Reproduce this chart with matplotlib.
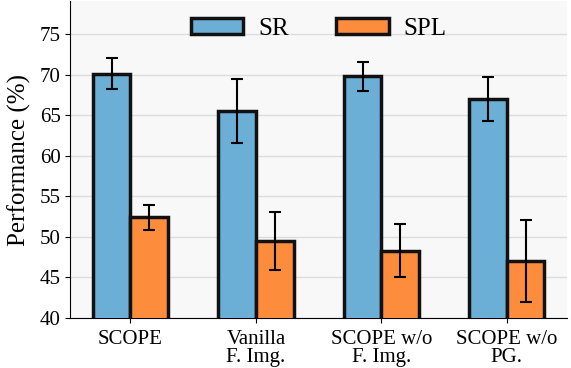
import numpy as np
import matplotlib
matplotlib.use("Agg")
import matplotlib.pyplot as plt

plt.rcParams['font.family'] = ['Liberation Serif', 'DejaVu Serif']

categories = ["SCOPE", "Vanilla\nF. Img.", "SCOPE w/o\nF. Img.", "SCOPE w/o\nPG."]
sr = [70.1, 65.5, 69.8, 67.0]
sr_err = [1.9, 4.0, 1.8, 2.7]
spl = [52.4, 49.5, 48.3, 47.0]
spl_err = [1.55, 3.6, 3.3, 5.05]

x = np.arange(len(categories))
width = 0.3

fig = plt.figure(figsize=(5.71, 3.68), dpi=100)
ax = fig.add_axes([0.123, 0.136, 0.870, 0.86])
ax.set_facecolor("#f8f8f8")

ax.bar(x - width / 2, sr, width, yerr=sr_err, color="#6baed6", edgecolor="#111111",
       linewidth=2.5, capsize=4, error_kw=dict(elinewidth=1.5, capthick=1.5), label="SR", zorder=3)
ax.bar(x + width / 2, spl, width, yerr=spl_err, color="#fd8d3c", edgecolor="#111111",
       linewidth=2.5, capsize=4, error_kw=dict(elinewidth=1.5, capthick=1.5), label="SPL", zorder=3)

ax.set_ylim(40, 79)
ax.set_xlim(-0.48, 3.48)
ax.set_yticks([40, 45, 50, 55, 60, 65, 70, 75])
ax.set_xticks(x)
ax.set_xticklabels(categories, fontsize=15, linespacing=0.95)
ax.tick_params(axis='y', labelsize=15)
ax.tick_params(axis='x', pad=5)
ax.set_ylabel("Performance (%)", fontsize=18, labelpad=6)
ax.yaxis.grid(True, color="#dddddd", linewidth=1, zorder=0)
ax.set_axisbelow(True)
for s in ["top", "right"]:
    ax.spines[s].set_visible(False)

ax.legend(loc="upper center", ncol=2, frameon=False, fontsize=18,
          handlelength=2.1, handleheight=0.6, handletextpad=0.6, columnspacing=1.9,
          bbox_to_anchor=(0.5, 1.02))

fig.savefig("out.png", dpi=100)
